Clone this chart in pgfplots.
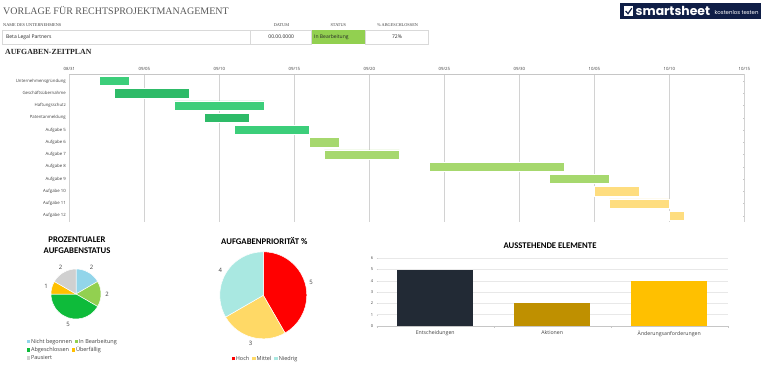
\documentclass[border=0pt]{standalone}
\usepackage{pgfplots}
\pgfplotsset{compat=1.18}
\usepackage{pgfplotstable}
\usepackage{fontspec}
\setmainfont{Open Sans}
\newfontfamily\serif{Liberation Serif}
\newfontfamily\carl{Carlito}
\newfontfamily\pop{Poppins}

\definecolor{hdr}{HTML}{595959}
\definecolor{lbl}{HTML}{404040}
\definecolor{cellb}{HTML}{D9D9D9}
\definecolor{stat}{HTML}{92D050}
\definecolor{navy}{HTML}{0F1E46}
\definecolor{gA}{HTML}{3CCE7A}
\definecolor{gB}{HTML}{2EBB68}
\definecolor{gC}{HTML}{A6D86E}
\definecolor{gD}{HTML}{FEDD7F}
\definecolor{nb}{HTML}{92D5EA}
\definecolor{ib}{HTML}{92D050}
\definecolor{ab}{HTML}{0EBB3A}
\definecolor{uf}{HTML}{FFC000}
\definecolor{pa}{HTML}{D0D0D0}
\definecolor{hoch}{HTML}{FF0000}
\definecolor{mittel}{HTML}{FFD966}
\definecolor{niedrig}{HTML}{A9E8E1}
\definecolor{bE}{HTML}{222A35}
\definecolor{bA}{HTML}{BF9000}
\definecolor{bX}{HTML}{FFC000}

\pgfplotstableread{
row start A B C D
1  2  2 0 0 0
2  3  0 5 0 0
3  7  6 0 0 0
4  9  0 3 0 0
5  11 5 0 0 0
6  16 0 0 2 0
7  17 0 0 5 0
8  24 0 0 9 0
9  32 0 0 4 0
10 35 0 0 0 3
11 36 0 0 0 4
12 40 0 0 0 1
}\gantt

\newcommand{\sq}[1]{\textcolor{#1}{\rule{3.5pt}{3.5pt}}}
\tikzset{pielab/.style={font=\fontsize{6}{7}\selectfont, text=lbl, inner sep=0pt}}

\begin{document}
\begin{tikzpicture}[x=1pt,y=1pt]
\path[use as bounding box, fill=white] (0,0) rectangle (767,365);

% ---------- header ----------
\node[anchor=base west, inner sep=0, text=hdr, font=\serif\fontsize{10}{12}\selectfont] at (3,350) {VORLAGE FÜR RECHTSPROJEKTMANAGEMENT};
\begin{scope}[every node/.style={inner sep=0, text=lbl, font=\serif\fontsize{4.3}{5}\selectfont}]
\node[anchor=west] at (3,340) {NAME DES UNTERNEHMENS};
\node at (281.5,340) {DATUM};
\node at (338.3,340) {STATUS};
\node at (397.5,340) {\% ABGESCHLOSSEN};
\end{scope}
\draw[cellb, line width=0.5pt] (2,321) rectangle (250.7,334.7);
\draw[cellb, line width=0.5pt] (250.7,321) rectangle (311.7,334.7);
\fill[stat] (311.7,321) rectangle (365,334.7);
\draw[cellb, line width=0.5pt] (365,321) rectangle (428.3,334.7);
\begin{scope}[every node/.style={inner sep=0, text=black!85, font=\fontsize{5}{6}\selectfont}]
\node[anchor=west] at (6,327.8) {Beta Legal Partners};
\node at (281.2,327.8) {00.00.0000};
\node[anchor=west] at (314,327.8) {In Bearbeitung};
\node at (397,327.8) {72\%};
\end{scope}
\node[anchor=base west, inner sep=0, text=black!85, font=\serif\bfseries\fontsize{7.8}{9}\selectfont] at (5,310.4) {AUFGABEN-ZEITPLAN};

% ---------- logo ----------
\fill[navy] (620,346.3) rectangle (761,361.7);
\fill[white] (624,349.3) rectangle (633,358.5);
\draw[navy, line width=1.2pt] (625.6,354) -- (628,351.3) -- (631.8,356.8);
\node[anchor=base west, inner sep=0, text=white, font=\pop\bfseries\fontsize{12.4}{13}\selectfont] at (635.5,349.6) {smartsheet};
\node[anchor=base west, inner sep=0, text=white, font=\pop\fontsize{5.4}{6}\selectfont] at (714.5,350.2) {kostenlos testen};

% ---------- Gantt ----------
\begin{axis}[
  at={(69.3pt,143pt)}, anchor=south west, scale only axis,
  width=675pt, height=148pt,
  xmin=0, xmax=45, ymin=0.43, ymax=12.51, y dir=reverse,
  xbar stacked, bar width=9.3pt,
  xtick={0,5,...,45},
  xticklabels={08/31,09/05,09/10,09/15,09/20,09/25,09/30,10/05,10/10,10/15},
  xticklabel pos=upper, xtick pos=upper,
  ytick={1,...,12},
  yticklabels={Unternehmensgründung,Geschäftsübernahme,Haftungsschutz,Patentanmeldung,Aufgabe 5,Aufgabe 6,Aufgabe 7,Aufgabe 8,Aufgabe 9,Aufgabe 10,Aufgabe 11,Aufgabe 12},
  ytick pos=right, yticklabel pos=left,
  xmajorgrids, grid style={gray!35, line width=0.6pt},
  axis line style={draw=none},
  major tick length=1.5pt,
  x tick style={draw=none},
  y tick style={gray!45},
  tick label style={font=\fontsize{4.3}{5}\selectfont, text=lbl},
  xticklabel style={yshift=-0.3pt},
  clip=false,
]
\draw[gray!45, line width=0.7pt] (axis cs:0,0.43) -- (axis cs:45,0.43);
\addplot[draw=none, fill=none] table[x=start, y=row] {\gantt};
\addplot[fill=gA, draw=white, line width=0.5pt] table[x=A, y=row] {\gantt};
\addplot[fill=gB, draw=white, line width=0.5pt] table[x=B, y=row] {\gantt};
\addplot[fill=gC, draw=white, line width=0.5pt] table[x=C, y=row] {\gantt};
\addplot[fill=gD, draw=white, line width=0.5pt] table[x=D, y=row] {\gantt};
\end{axis}

% ---------- Pie 1 ----------
\node[align=center, inner sep=0, text=black, font=\carl\bfseries\fontsize{8.7}{11}\selectfont] at (77,119.5) {PROZENTUALER\\AUFGABENSTATUS};
\begin{axis}[hide axis, at={(76pt,71pt)}, anchor=origin, x=25pt, y=25pt,
  xmin=-1, xmax=1, ymin=-1, ymax=1, clip=false]
\xdef\pieacc{90}
\foreach \v/\c in {2/nb,2/ib,5/ab,1/uf,2/pa}{
  \pgfmathsetmacro\pe{\pieacc-\v*360/12}
  \pgfmathsetmacro\pm{(\pieacc+\pe)/2}
  \edef\temp{\noexpand\fill[\c, draw=white, line width=0.5pt] (axis cs:0,0) -- (axis cs:{cos(\pieacc)},{sin(\pieacc)}) arc[start angle=\pieacc, end angle=\pe, radius=25pt] -- cycle;
  \noexpand\node[pielab] at (axis cs:{1.24*cos(\pm)},{1.24*sin(\pm)}) {\v};}
  \temp
  \xdef\pieacc{\pe}
}
\end{axis}
\begin{scope}[every node/.style={anchor=west, inner sep=0, text=lbl, font=\fontsize{5.5}{6.5}\selectfont}]
\node at (26.5,23.3) {\sq{nb}\,Nicht begonnen\hspace{2.5pt}\sq{ib}\,In Bearbeitung};
\node at (26.5,15) {\sq{ab}\,Abgeschlossen\hspace{2.5pt}\sq{uf}\,Überfällig};
\node at (26.5,7) {\sq{pa}\,Pausiert};
\end{scope}

% ---------- Pie 2 ----------
\node[inner sep=0, text=black, font=\carl\bfseries\fontsize{8.7}{11}\selectfont] at (264.3,124) {AUFGABENPRIORITÄT \%};
\begin{axis}[hide axis, at={(263.3pt,69.7pt)}, anchor=origin, x=43.5pt, y=43.5pt,
  xmin=-1, xmax=1, ymin=-1, ymax=1, clip=false]
\xdef\pieacc{90}
\foreach \v/\c in {5/hoch,3/mittel,4/niedrig}{
  \pgfmathsetmacro\pe{\pieacc-\v*360/12}
  \pgfmathsetmacro\pm{(\pieacc+\pe)/2}
  \edef\temp{\noexpand\fill[\c, draw=white, line width=0.5pt] (axis cs:0,0) -- (axis cs:{cos(\pieacc)},{sin(\pieacc)}) arc[start angle=\pieacc, end angle=\pe, radius=43.5pt] -- cycle;
  \noexpand\node[pielab] at (axis cs:{1.14*cos(\pm)},{1.14*sin(\pm)}) {\v};}
  \temp
  \xdef\pieacc{\pe}
}
\end{axis}
\node[inner sep=0, text=lbl, font=\fontsize{5.5}{6.5}\selectfont] at (264.5,6) {\sq{hoch}\,Hoch\hspace{3pt}\sq{mittel}\,Mittel\hspace{3pt}\sq{niedrig}\,Niedrig};

% ---------- Bar chart ----------
\node[inner sep=0, text=black, font=\carl\bfseries\fontsize{8.7}{11}\selectfont] at (550,119.3) {AUSSTEHENDE ELEMENTE};
\begin{axis}[
  at={(376.7pt,39pt)}, anchor=south west, scale only axis,
  width=351pt, height=67.7pt,
  ybar, bar width=75.7pt, bar shift=0pt,
  xmin=-0.5, xmax=2.5, ymin=0, ymax=6,
  xtick={0,1,2}, xticklabels={Entscheidungen,Aktionen,Änderungsanforderungen},
  minor xtick={-0.5,0.5,1.5,2.5},
  ytick={0,...,6},
  ymajorgrids, grid style={gray!18, line width=0.5pt},
  axis x line*=bottom, axis y line*=left,
  x axis line style={gray!45},
  y axis line style={draw=none},
  major x tick style={draw=none},
  minor x tick style={gray!45},
  y tick style={gray!35},
  major tick length=1.5pt, minor tick length=1.8pt,
  yticklabel style={font=\fontsize{4}{5}\selectfont, text=lbl},
  xticklabel style={font=\fontsize{5.2}{6}\selectfont, text=lbl},
  /pgf/number format/assume math mode=true,
]
\addplot[fill=bE, draw=none] coordinates {(0,5)};
\addplot[fill=bA, draw=none] coordinates {(1,2)};
\addplot[fill=bX, draw=none] coordinates {(2,4)};
\end{axis}
\end{tikzpicture}
\end{document}
